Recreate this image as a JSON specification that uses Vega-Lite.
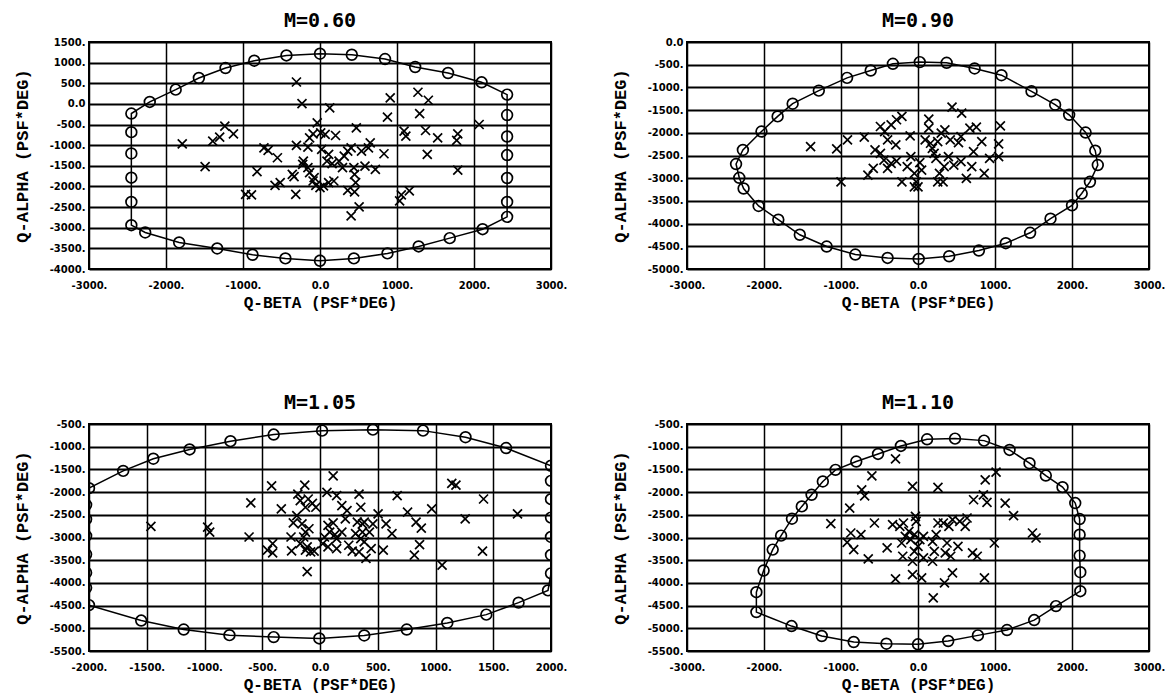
{
"$schema": "https://vega.github.io/schema/vega-lite/v6.json",
"background": "white",
"padding": {"left": 12, "top": 10, "right": 5, "bottom": 5},
"config": {
  "view": {"stroke": "black", "strokeWidth": 2},
  "axis": {"grid": true, "gridColor": "black", "gridWidth": 1.6, "gridOpacity": 1, "domain": false, "ticks": false,
    "labelFont": "DejaVu Sans", "labelFontWeight": "bold", "labelFontSize": 10, "labelColor": "black",
    "titleFont": "Liberation Mono", "titleFontWeight": "bold", "titleFontSize": 16, "titleColor": "black",
    "labelOverlap": false, "labelBound": false, "labelFlush": false,
    "labelExpr": "datum.value == 0 ? '0.0' : '' + datum.value + '.'"},
  "axisX": {"labelPadding": 11, "titlePadding": 4, "gridWidth": 1.5},
  "axisY": {"labelPadding": 4, "titlePadding": 18, "titleFontSize": 17, "gridWidth": 2.1},
  "title": {"font": "DejaVu Sans Mono", "fontSize": 20, "fontWeight": "bold", "offset": 6, "color": "black", "anchor": "middle"}
},
"datasets": {
  "e1": [
    {"i":1,"b":-2450,"a":-233},{"i":2,"b":-2450,"a":-684},{"i":3,"b":-2450,"a":-1200},{"i":4,"b":-2450,"a":-1787},{"i":5,"b":-2450,"a":-2375},{"i":6,"b":-2450,"a":-2938},{"i":7,"b":-2270,"a":-3115},{"i":8,"b":-1829,"a":-3357},{"i":9,"b":-1335,"a":-3502},{"i":10,"b":-876,"a":-3655},{"i":11,"b":-449,"a":-3743},{"i":12,"b":0,"a":-3800},{"i":13,"b":440,"a":-3743},{"i":14,"b":876,"a":-3622},{"i":15,"b":1281,"a":-3453},{"i":16,"b":1685,"a":-3252},{"i":17,"b":2112,"a":-3035},{"i":18,"b":2430,"a":-2737},{"i":19,"b":2430,"a":-2375},{"i":20,"b":2430,"a":-1795},{"i":21,"b":2430,"a":-1240},{"i":22,"b":2430,"a":-790},{"i":23,"b":2430,"a":-270},{"i":24,"b":2430,"a":225},{"i":25,"b":2099,"a":523},{"i":26,"b":1663,"a":749},{"i":27,"b":1236,"a":894},{"i":28,"b":845,"a":1087},{"i":29,"b":413,"a":1191},{"i":30,"b":0,"a":1216},{"i":31,"b":-436,"a":1175},{"i":32,"b":-854,"a":1047},{"i":33,"b":-1227,"a":869},{"i":34,"b":-1573,"a":628},{"i":35,"b":-1874,"a":346},{"i":36,"b":-2211,"a":48}
  ],
  "x1": [
    {"b":-306,"a":531},{"b":-234,"a":8},{"b":126,"a":-97},{"b":912,"a":145},{"b":1272,"a":282},{"b":1407,"a":89},{"b":1294,"a":-233},{"b":876,"a":-322},{"b":-36,"a":-459},{"b":472,"a":-580},{"b":1092,"a":-660},{"b":1115,"a":-781},{"b":1371,"a":-644},{"b":1528,"a":-821},{"b":1789,"a":-724},{"b":1775,"a":-885},{"b":2067,"a":-499},{"b":1393,"a":-1224},{"b":1789,"a":-1602},
    {"b":-1236,"a":-539},{"b":-1124,"a":-724},{"b":-1303,"a":-805},{"b":-1393,"a":-902},{"b":-1789,"a":-966},{"b":-1492,"a":-1521},{"b":-728,"a":-1063},{"b":-674,"a":-1127},{"b":-553,"a":-1304},{"b":-818,"a":-1642},{"b":-890,"a":-2206},{"b":-966,"a":-2190},{"b":-517,"a":-1908},{"b":-584,"a":-1972},{"b":-360,"a":-1707},{"b":-337,"a":-1763},{"b":-315,"a":-2190},
    {"b":-306,"a":-1006},{"b":-157,"a":-1047},{"b":-216,"a":-1385},{"b":-225,"a":-1465},{"b":-157,"a":-1546},{"b":-135,"a":-1666},{"b":-76,"a":-1787},{"b":-90,"a":-1868},{"b":-54,"a":-1972},{"b":0,"a":-2029},{"b":45,"a":-1988},{"b":-135,"a":-821},{"b":-90,"a":-724},{"b":9,"a":-700},{"b":67,"a":-740},{"b":202,"a":-765},{"b":22,"a":-1103},{"b":112,"a":-1224},{"b":90,"a":-1385},{"b":157,"a":-1449},{"b":112,"a":-1908},{"b":180,"a":-1868},{"b":247,"a":-1385},{"b":315,"a":-1264},{"b":360,"a":-1143},{"b":404,"a":-1063},{"b":292,"a":-1546},{"b":440,"a":-1546},{"b":449,"a":-1707},{"b":463,"a":-1908},{"b":360,"a":-2093},{"b":449,"a":-2133},{"b":404,"a":-2713},{"b":508,"a":-2496},{"b":539,"a":-1143},{"b":629,"a":-1063},{"b":652,"a":-942},{"b":584,"a":-1505},{"b":719,"a":-1586},{"b":831,"a":-1208},{"b":1034,"a":-2351},{"b":1056,"a":-2206},{"b":1160,"a":-2109}
  ],
  "e2": [
    {"i":1,"b":23,"a":-443},{"i":2,"b":372,"a":-458},{"i":3,"b":735,"a":-583},{"i":4,"b":1084,"a":-731},{"i":5,"b":1474,"a":-1086},{"i":6,"b":1781,"a":-1381},{"i":7,"b":1963,"a":-1603},{"i":8,"b":2177,"a":-1994},{"i":9,"b":2302,"a":-2393},{"i":10,"b":2335,"a":-2710},{"i":11,"b":2233,"a":-3080},{"i":12,"b":2126,"a":-3338},{"i":13,"b":2000,"a":-3597},{"i":14,"b":1721,"a":-3892},{"i":15,"b":1456,"a":-4202},{"i":16,"b":1140,"a":-4431},{"i":17,"b":791,"a":-4593},{"i":18,"b":405,"a":-4719},{"i":19,"b":9,"a":-4778},{"i":20,"b":-395,"a":-4756},{"i":21,"b":-814,"a":-4682},{"i":22,"b":-1186,"a":-4505},{"i":23,"b":-1535,"a":-4246},{"i":24,"b":-1814,"a":-3914},{"i":25,"b":-2070,"a":-3611},{"i":26,"b":-2265,"a":-3227},{"i":27,"b":-2321,"a":-2991},{"i":28,"b":-2363,"a":-2688},{"i":29,"b":-2274,"a":-2378},{"i":30,"b":-2033,"a":-1972},{"i":31,"b":-1823,"a":-1639},{"i":32,"b":-1628,"a":-1359},{"i":33,"b":-1288,"a":-1071},{"i":34,"b":-921,"a":-790},{"i":35,"b":-614,"a":-628},{"i":36,"b":-326,"a":-480}
  ],
  "x2": [
    {"b":442,"a":-1433},{"b":567,"a":-1566},{"b":1070,"a":-1846},{"b":1047,"a":-2245},{"b":1047,"a":-2526},{"b":-1395,"a":-2304},{"b":-1056,"a":-2356},{"b":-916,"a":-2156},{"b":-1000,"a":-3080},{"b":-698,"a":-2097},{"b":-651,"a":-2932},{"b":-581,"a":-2784},{"b":-558,"a":-2378},{"b":-488,"a":-1861},{"b":-433,"a":-1972},{"b":-395,"a":-2156},{"b":-349,"a":-1824},{"b":-279,"a":-1713},{"b":-209,"a":-1639},{"b":-288,"a":-2267},{"b":-488,"a":-2452},{"b":-442,"a":-2600},{"b":-395,"a":-2784},{"b":-349,"a":-2673},{"b":-279,"a":-2622},{"b":-209,"a":-3080},{"b":-140,"a":-2747},{"b":-102,"a":-2068},{"b":-93,"a":-2526},{"b":-47,"a":-2895},{"b":-23,"a":-3080},{"b":0,"a":-3190},{"b":-47,"a":-3190},{"b":23,"a":-2659},{"b":47,"a":-2821},{"b":93,"a":-2156},{"b":140,"a":-1699},{"b":140,"a":-1898},{"b":163,"a":-2230},{"b":186,"a":-2341},{"b":209,"a":-2452},{"b":233,"a":-2563},{"b":256,"a":-2193},{"b":302,"a":-2009},{"b":349,"a":-1935},{"b":279,"a":-2895},{"b":326,"a":-3080},{"b":256,"a":-3080},{"b":340,"a":-2747},{"b":395,"a":-2526},{"b":465,"a":-2710},{"b":526,"a":-2215},{"b":558,"a":-2083},{"b":558,"a":-2636},{"b":628,"a":-3006},{"b":674,"a":-1898},{"b":758,"a":-1876},{"b":698,"a":-2747},{"b":721,"a":-2415},{"b":828,"a":-2193},{"b":860,"a":-2895},{"b":930,"a":-2563},{"b":419,"a":-2156}
  ],
  "e3": [
    {"i":1,"b":-2000,"a":-1913},{"i":2,"b":-1704,"a":-1533},{"i":3,"b":-1443,"a":-1264},{"i":4,"b":-1129,"a":-1060},{"i":5,"b":-775,"a":-878},{"i":6,"b":-401,"a":-733},{"i":7,"b":18,"a":-646},{"i":8,"b":458,"a":-624},{"i":9,"b":892,"a":-646},{"i":10,"b":1260,"a":-791},{"i":11,"b":1611,"a":-1030},{"i":12,"b":2000,"a":-1420},{"i":13,"b":2000,"a":-1752},{"i":14,"b":2000,"a":-2156},{"i":15,"b":2000,"a":-2562},{"i":16,"b":2000,"a":-2988},{"i":17,"b":2000,"a":-3385},{"i":18,"b":2000,"a":-3790},{"i":19,"b":1974,"a":-4165},{"i":20,"b":1719,"a":-4435},{"i":21,"b":1440,"a":-4699},{"i":22,"b":1102,"a":-4881},{"i":23,"b":751,"a":-5027},{"i":24,"b":383,"a":-5158},{"i":25,"b":-6,"a":-5223},{"i":26,"b":-401,"a":-5194},{"i":27,"b":-784,"a":-5151},{"i":28,"b":-1180,"a":-5027},{"i":29,"b":-1548,"a":-4830},{"i":30,"b":-2000,"a":-4489},{"i":31,"b":-2025,"a":-4107},{"i":32,"b":-2025,"a":-3776},{"i":33,"b":-2025,"a":-3370},{"i":34,"b":-2025,"a":-2966},{"i":35,"b":-2025,"a":-2597},{"i":36,"b":-2025,"a":-2281}
  ],
  "x3": [
    {"b":114,"a":-1643},{"b":-132,"a":-1846},{"b":-419,"a":-1861},{"b":-599,"a":-2239},{"b":-335,"a":-2370},{"b":-192,"a":-2043},{"b":-171,"a":-2188},{"b":-201,"a":-2516},{"b":-231,"a":-2676},{"b":-126,"a":-2334},{"b":-102,"a":-2152},{"b":-66,"a":-2247},{"b":-36,"a":-2334},{"b":-156,"a":-2698},{"b":-126,"a":-2880},{"b":-96,"a":-2807},{"b":-251,"a":-2989},{"b":-171,"a":-3135},{"b":-141,"a":-2989},{"b":-126,"a":-3280},{"b":-111,"a":-3207},{"b":-246,"a":-3295},{"b":-81,"a":-3317},{"b":-51,"a":-3302},{"b":-455,"a":-3280},{"b":-410,"a":-3135},{"b":-410,"a":-3338},{"b":-111,"a":-3753},{"b":60,"a":-2007},{"b":144,"a":-2079},{"b":69,"a":-2734},{"b":114,"a":-2676},{"b":84,"a":-2880},{"b":39,"a":-2989},{"b":24,"a":-3135},{"b":69,"a":-3207},{"b":129,"a":-2938},{"b":144,"a":-3025},{"b":144,"a":-3244},{"b":189,"a":-2880},{"b":189,"a":-2298},{"b":234,"a":-2407},{"b":219,"a":-2589},{"b":249,"a":-3171},{"b":279,"a":-3302},{"b":308,"a":-2916},{"b":338,"a":-2043},{"b":353,"a":-2334},{"b":323,"a":-2662},{"b":368,"a":-2698},{"b":383,"a":-2662},{"b":368,"a":-2880},{"b":353,"a":-3025},{"b":383,"a":-3098},{"b":338,"a":-3317},{"b":398,"a":-3462},{"b":428,"a":-2880},{"b":458,"a":-2698},{"b":503,"a":-2480},{"b":443,"a":-3244},{"b":548,"a":-3280},{"b":572,"a":-2698},{"b":623,"a":-2916},{"b":668,"a":-2079},{"b":758,"a":-2443},{"b":832,"a":-2662},{"b":877,"a":-2793},{"b":862,"a":-3157},{"b":817,"a":-3389},{"b":967,"a":-2370},{"b":1057,"a":-3608},{"b":1141,"a":-1810},{"b":1177,"a":-1846},{"b":1257,"a":-2589},{"b":1416,"a":-2152},{"b":1407,"a":-3302},{"b":1710,"a":-2480},{"b":-973,"a":-2771},{"b":-955,"a":-2880},{"b":-1464,"a":-2756},{"b":-614,"a":-2989}
  ],
  "e4": [
    {"i":1,"b":118,"a":-837},{"i":2,"b":481,"a":-822},{"i":3,"b":858,"a":-866},{"i":4,"b":1189,"a":-1071},{"i":5,"b":1448,"a":-1364},{"i":6,"b":1660,"a":-1635},{"i":7,"b":1877,"a":-1891},{"i":8,"b":2042,"a":-2242},{"i":9,"b":2099,"a":-2594},{"i":10,"b":2099,"a":-2938},{"i":11,"b":2099,"a":-3399},{"i":12,"b":2108,"a":-3765},{"i":13,"b":2108,"a":-4182},{"i":14,"b":1792,"a":-4511},{"i":15,"b":1509,"a":-4819},{"i":16,"b":1156,"a":-5038},{"i":17,"b":778,"a":-5156},{"i":18,"b":392,"a":-5280},{"i":19,"b":0,"a":-5353},{"i":20,"b":-410,"a":-5339},{"i":21,"b":-835,"a":-5302},{"i":22,"b":-1250,"a":-5170},{"i":23,"b":-1642,"a":-4951},{"i":24,"b":-2099,"a":-4643},{"i":25,"b":-2099,"a":-4204},{"i":26,"b":-2005,"a":-3728},{"i":27,"b":-1887,"a":-3267},{"i":28,"b":-1778,"a":-2959},{"i":29,"b":-1637,"a":-2586},{"i":30,"b":-1509,"a":-2315},{"i":31,"b":-1382,"a":-2059},{"i":32,"b":-1236,"a":-1766},{"i":33,"b":-1071,"a":-1510},{"i":34,"b":-802,"a":-1327},{"i":35,"b":-519,"a":-1159},{"i":36,"b":-222,"a":-983}
  ],
  "x4": [
    {"b":-292,"a":-1269},{"b":-599,"a":-1642},{"b":-731,"a":-1949},{"b":-693,"a":-2081},{"b":-887,"a":-2352},{"b":-1132,"a":-2696},{"b":-566,"a":-2681},{"b":-873,"a":-2901},{"b":-741,"a":-2938},{"b":-920,"a":-3106},{"b":-835,"a":-3267},{"b":-646,"a":-3472},{"b":-401,"a":-3230},{"b":-330,"a":-2718},{"b":-236,"a":-2755},{"b":-189,"a":-2681},{"b":-212,"a":-3121},{"b":-198,"a":-3413},{"b":-292,"a":-3911},{"b":-71,"a":-3816},{"b":47,"a":-3889},{"b":-71,"a":-1876},{"b":-33,"a":-2535},{"b":-24,"a":-2645},{"b":-118,"a":-2864},{"b":-165,"a":-2974},{"b":-94,"a":-3047},{"b":-47,"a":-2938},{"b":0,"a":-3194},{"b":-47,"a":-3304},{"b":24,"a":-3047},{"b":71,"a":-2974},{"b":-71,"a":-3523},{"b":71,"a":-3450},{"b":189,"a":-3523},{"b":212,"a":-3304},{"b":189,"a":-3084},{"b":236,"a":-2938},{"b":259,"a":-2681},{"b":330,"a":-2681},{"b":401,"a":-2755},{"b":448,"a":-2608},{"b":542,"a":-2645},{"b":637,"a":-2571},{"b":613,"a":-2755},{"b":377,"a":-3121},{"b":519,"a":-3194},{"b":354,"a":-3340},{"b":425,"a":-3413},{"b":708,"a":-3340},{"b":769,"a":-3413},{"b":448,"a":-3779},{"b":344,"a":-4000},{"b":863,"a":-3889},{"b":198,"a":-4328},{"b":259,"a":-1898},{"b":722,"a":-2169},{"b":873,"a":-1730},{"b":1014,"a":-1561},{"b":849,"a":-2059},{"b":896,"a":-2227},{"b":1132,"a":-2242},{"b":1241,"a":-2520},{"b":991,"a":-3121},{"b":1486,"a":-2901},{"b":1533,"a":-3011}
  ]
},
"columns": 2,
"spacing": {"row": 155, "column": 136},
"bounds": "flush",
"concat": [
    {"width": 462, "height": 227, "title": "M=0.60",
     "encoding": {
       "x": {"field": "b", "type": "quantitative", "scale": {"domain": [-3000, 3000], "nice": false, "zero": false}, "axis": {"values": [-3000,-2000,-1000,0,1000,2000,3000], "title": "Q-BETA (PSF*DEG)"}},
       "y": {"field": "a", "type": "quantitative", "scale": {"domain": [-4000, 1500], "nice": false, "zero": false}, "axis": {"values": [-4000,-3500,-3000,-2500,-2000,-1500,-1000,-500,0,500,1000,1500], "title": "Q-ALPHA  (PSF*DEG)"}}
     },
     "layer": [
       {"data": {"name": "e1"}, "mark": {"type": "line", "interpolate": "linear-closed", "color": "black", "strokeWidth": 1.5, "clip": true}, "encoding": {"order": {"field": "i", "type": "quantitative"}}},
       {"data": {"name": "e1"}, "mark": {"type": "point", "shape": "circle", "filled": false, "color": "black", "opacity": 1, "size": 115, "strokeWidth": 1.7, "clip": true}},
       {"data": {"name": "x1"}, "mark": {"type": "point", "shape": "M-1,-1L1,1M-1,1L1,-1", "filled": false, "color": "black", "opacity": 1, "size": 81, "strokeWidth": 1.7, "clip": true}}
     ]},
    {"width": 462, "height": 227, "title": "M=0.90",
     "encoding": {
       "x": {"field": "b", "type": "quantitative", "scale": {"domain": [-3000, 3000], "nice": false, "zero": false}, "axis": {"values": [-3000,-2000,-1000,0,1000,2000,3000], "title": "Q-BETA (PSF*DEG)"}},
       "y": {"field": "a", "type": "quantitative", "scale": {"domain": [-5000, 0], "nice": false, "zero": false}, "axis": {"values": [-5000,-4500,-4000,-3500,-3000,-2500,-2000,-1500,-1000,-500,0], "title": "Q-ALPHA  (PSF*DEG)"}}
     },
     "layer": [
       {"data": {"name": "e2"}, "mark": {"type": "line", "interpolate": "linear-closed", "color": "black", "strokeWidth": 1.5, "clip": true}, "encoding": {"order": {"field": "i", "type": "quantitative"}}},
       {"data": {"name": "e2"}, "mark": {"type": "point", "shape": "circle", "filled": false, "color": "black", "opacity": 1, "size": 115, "strokeWidth": 1.7, "clip": true}},
       {"data": {"name": "x2"}, "mark": {"type": "point", "shape": "M-1,-1L1,1M-1,1L1,-1", "filled": false, "color": "black", "opacity": 1, "size": 81, "strokeWidth": 1.7, "clip": true}}
     ]},
    {"width": 462, "height": 227, "title": "M=1.05",
     "encoding": {
       "x": {"field": "b", "type": "quantitative", "scale": {"domain": [-2000, 2000], "nice": false, "zero": false}, "axis": {"values": [-2000,-1500,-1000,-500,0,500,1000,1500,2000], "title": "Q-BETA (PSF*DEG)"}},
       "y": {"field": "a", "type": "quantitative", "scale": {"domain": [-5500, -500], "nice": false, "zero": false}, "axis": {"values": [-5500,-5000,-4500,-4000,-3500,-3000,-2500,-2000,-1500,-1000,-500], "title": "Q-ALPHA  (PSF*DEG)"}}
     },
     "layer": [
       {"data": {"name": "e3"}, "mark": {"type": "line", "interpolate": "linear-closed", "color": "black", "strokeWidth": 1.5, "clip": true}, "encoding": {"order": {"field": "i", "type": "quantitative"}}},
       {"data": {"name": "e3"}, "mark": {"type": "point", "shape": "circle", "filled": false, "color": "black", "opacity": 1, "size": 115, "strokeWidth": 1.7, "clip": true}},
       {"data": {"name": "x3"}, "mark": {"type": "point", "shape": "M-1,-1L1,1M-1,1L1,-1", "filled": false, "color": "black", "opacity": 1, "size": 81, "strokeWidth": 1.7, "clip": true}}
     ]},
    {"width": 462, "height": 227, "title": "M=1.10",
     "encoding": {
       "x": {"field": "b", "type": "quantitative", "scale": {"domain": [-3000, 3000], "nice": false, "zero": false}, "axis": {"values": [-3000,-2000,-1000,0,1000,2000,3000], "title": "Q-BETA (PSF*DEG)"}},
       "y": {"field": "a", "type": "quantitative", "scale": {"domain": [-5500, -500], "nice": false, "zero": false}, "axis": {"values": [-5500,-5000,-4500,-4000,-3500,-3000,-2500,-2000,-1500,-1000,-500], "title": "Q-ALPHA  (PSF*DEG)"}}
     },
     "layer": [
       {"data": {"name": "e4"}, "mark": {"type": "line", "interpolate": "linear-closed", "color": "black", "strokeWidth": 1.5, "clip": true}, "encoding": {"order": {"field": "i", "type": "quantitative"}}},
       {"data": {"name": "e4"}, "mark": {"type": "point", "shape": "circle", "filled": false, "color": "black", "opacity": 1, "size": 115, "strokeWidth": 1.7, "clip": true}},
       {"data": {"name": "x4"}, "mark": {"type": "point", "shape": "M-1,-1L1,1M-1,1L1,-1", "filled": false, "color": "black", "opacity": 1, "size": 81, "strokeWidth": 1.7, "clip": true}}
     ]}
]
}
